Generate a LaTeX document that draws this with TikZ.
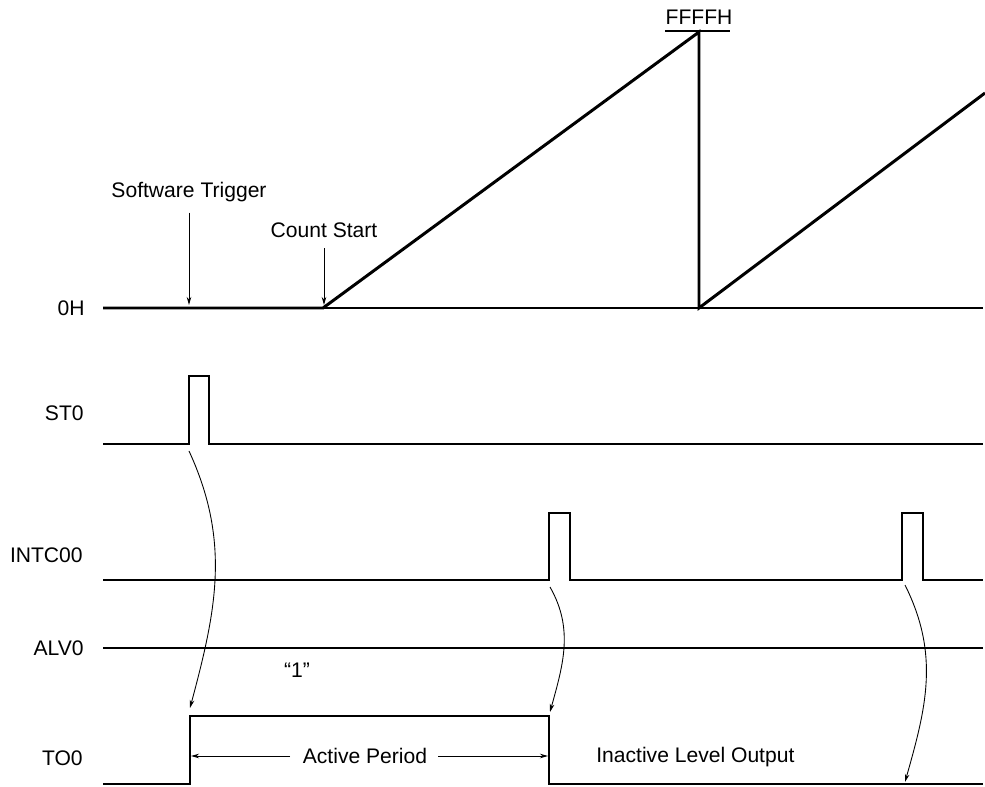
\documentclass[tikz,border=0pt]{standalone}
\usepackage{fontspec}
\setmainfont{Liberation Sans}
\usetikzlibrary{arrows.meta, positioning}
\tikzset{
  sigline/.style  = {line width=1.7pt, black, line join=miter},
  zeroline/.style = {line width=0.8pt, black},
  evtarrow/.style = {-{Stealth[length=4.6pt, width=2.6pt]}, line width=0.5pt},
  lbl/.style      = {font=\fontsize{12}{14}\selectfont, inner sep=0pt},
  siglbl/.style   = {lbl, anchor=east},
}

\begin{document}
\begin{tikzpicture}[x=0.02cm, y=-0.02cm]
  \useasboundingbox (0,0) rectangle (985,787);
  % signal names
  \node[siglbl] (lblcnt)  at (85,308) {0H};
  \node[siglbl] (lblst)   at (84,413) {ST0};
  \node[siglbl] (lblintc) at (83,555) {INTC00};
  \node[siglbl] (lblalv)  at (84,648) {ALV0};
  \node[siglbl] (lblto)   at (83,758) {TO0};
  % counter value
  \draw[zeroline] (323,308) -- (983,308);
  \draw[sigline] (103,308) -- (323,308) -- (699,32) -- (699,308) -- (985,93);
  \node[lbl] (ffff) at (699,17.5) {FFFFH};
  \draw[line width=0.8pt] (ffff.south west) ++(0,6) -- ++(65,0);
  % events on the counter
  \node[lbl] (swtrig) at (189,192) {Software Trigger};
  \coordinate (swpt) at (189,305);
  \draw[evtarrow, shorten <=6pt] (swtrig) -- (swpt);
  \node[lbl] (cntstart) at (324,230) {Count Start};
  \coordinate (cspt) at (324,305);
  \draw[evtarrow, shorten <=6pt] (cntstart) -- (cspt);
  % timing waveforms
  \draw[sigline] (103,444) -- (189,444) -- (189,376) -- (209,376) -- (209,444) -- (983,444);
  \draw[sigline] (103,580) -- (549,580) -- (549,513) -- (570,513) -- (570,580)
    -- (902,580) -- (902,513) -- (923,513) -- (923,580) -- (983,580);
  \draw[sigline] (103,648) -- (983,648);
  \draw[sigline] (103,784) -- (190,784) -- (190,716) -- (549,716) -- (549,784) -- (983,784);
  \node[lbl] (one) at (297,670) {“1”};
  % cause -> effect
  \coordinate (stfall)   at (189,451);
  \coordinate (torise)   at (190,708);
  \coordinate (intfall)  at (550,587);
  \coordinate (tofall)   at (550,712);
  \coordinate (intfall2) at (905,585);
  \coordinate (tolow)    at (905,782);
  \draw[evtarrow] (stfall) .. controls (231,542) and (216,611) .. (torise);
  \draw[evtarrow] (intfall) .. controls (574,629) and (563,665) .. (tofall);
  \draw[evtarrow] (intfall2) .. controls (940,655) and (926,708) .. (tolow);
  % active period
  \node[lbl] (actper) at (365,756) {Active Period};
  \coordinate (actl) at (191,756);
  \coordinate (actr) at (548,756);
  \draw[evtarrow, shorten <=7pt] (actper) -- (actl);
  \draw[evtarrow, shorten <=6pt] (actper) -- (actr);
  \node[lbl, anchor=west] (inact) at (596,757) {Inactive Level Output};
\end{tikzpicture}
\end{document}
